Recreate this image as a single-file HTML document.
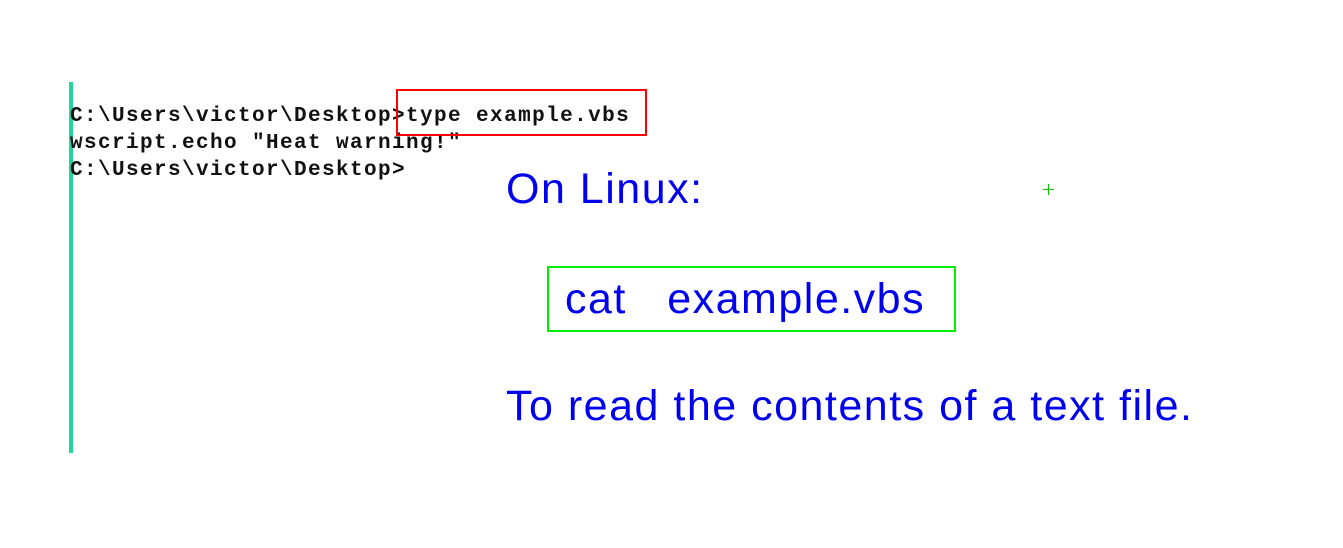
<!DOCTYPE html>
<html><head><meta charset="utf-8"><style>
body{margin:0;width:1343px;height:548px;background:#fff;position:relative;overflow:hidden;font-family:"Liberation Sans",sans-serif}
.bar{position:absolute;left:69px;top:82px;width:4px;height:371px;background:#1fd6a0}
.mono{position:absolute;left:70px;font-family:"Liberation Mono",monospace;font-weight:bold;font-size:21px;letter-spacing:1.4px;color:#111;white-space:pre;line-height:27px}
.box{position:absolute;border:2px solid}
.t{position:absolute;color:#0000ee;white-space:pre;line-height:1;letter-spacing:1.5px}
</style></head><body>
<div class="bar"></div>
<div class="mono" style="top:103px">C:\Users\victor\Desktop&gt;type example.vbs
wscript.echo "Heat warning!"
C:\Users\victor\Desktop&gt;</div>
<div class="box" style="left:396px;top:89px;width:247px;height:43px;border-color:#f00"></div>
<div class="t" style="left:506px;top:168px;font-size:43px">On Linux:</div>
<div class="box" style="left:547px;top:266px;width:405px;height:62px;border-color:#00ee00"></div>
<div class="t" style="left:565px;top:278px;font-size:43px">cat   example.vbs</div>
<div class="t" style="left:506px;top:385px;font-size:43px">To read the contents of a text file.</div>
<div style="position:absolute;left:1043px;top:189px;width:11px;height:1px;background:#0c0"></div>
<div style="position:absolute;left:1048px;top:184px;width:1px;height:11px;background:#0c0"></div>
</body></html>
